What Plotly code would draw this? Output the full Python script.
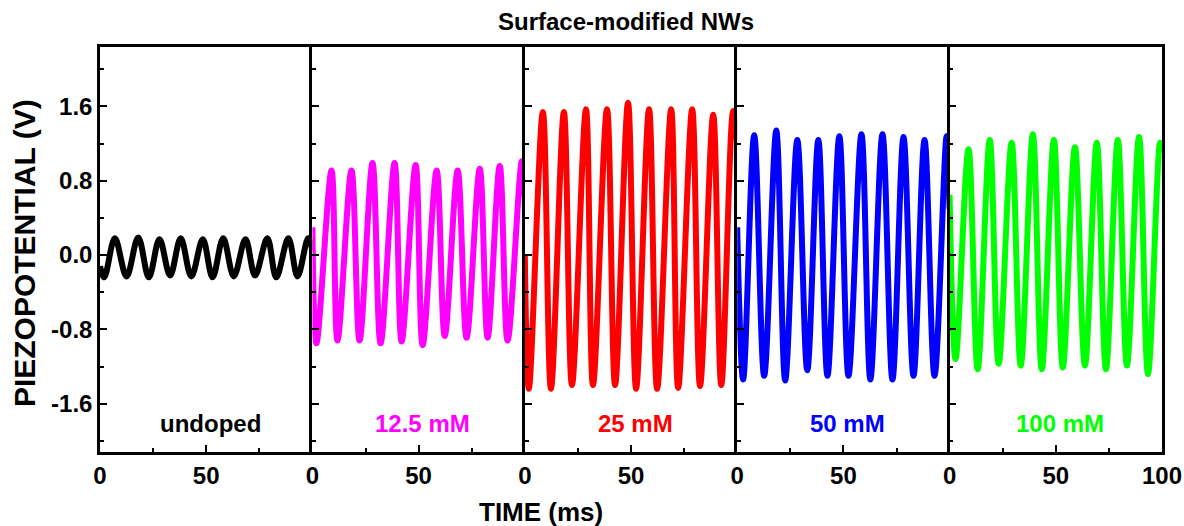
import plotly.graph_objects as go

# Piezopotential traces: time (ms) and voltage (V) at the start, at every
# trough/peak and at the end of each 100 ms recording.
undoped_t = [0, 2.0, 7.0, 12.5, 18.0, 23.0, 28.0, 33.0, 38.0, 43.0, 48.4, 53.0,
             58.0, 63.0, 68.5, 73.0, 78.8, 83.0, 88.7, 93.0, 98.0, 100]
undoped_v = [-0.12, -0.24, 0.18, -0.23, 0.19, -0.24, 0.17, -0.22, 0.18, -0.23,
             0.17, -0.24, 0.18, -0.23, 0.17, -0.22, 0.18, -0.24, 0.18, -0.23,
             0.18, 0.05]

mm12_t = [0, 1.9, 9.0, 11.8, 18.4, 22.2, 28.3, 32.1, 38.7, 42.0, 48.6, 51.9,
          58.5, 62.3, 68.4, 72.6, 78.8, 82.5, 88.2, 91.9, 98.6, 100]
mm12_v = [0.30, -0.95, 0.91, -0.92, 0.91, -0.92, 0.99, -0.95, 0.99, -0.93,
          0.97, -0.97, 0.91, -0.87, 0.91, -0.89, 0.93, -0.89, 0.96, -0.92,
          1.01, 0.60]

mm25_t = [0, 1.9, 8.5, 12.3, 18.4, 22.2, 28.8, 32.1, 38.7, 42.5, 48.6, 52.4,
          58.5, 62.3, 68.9, 72.2, 78.8, 82.5, 88.7, 92.5, 98.1, 100]
mm25_v = [0.0, -1.44, 1.54, -1.44, 1.54, -1.40, 1.57, -1.40, 1.57, -1.40,
          1.64, -1.44, 1.57, -1.44, 1.57, -1.43, 1.57, -1.41, 1.51, -1.40,
          1.55, 1.20]

mm50_t = [0, 2.8, 8.0, 12.7, 18.4, 22.6, 28.3, 33.0, 38.2, 42.5, 48.1, 52.4,
          58.5, 62.7, 68.4, 73.1, 78.3, 83.0, 88.2, 92.9, 98.6, 100]
mm50_v = [0.30, -1.34, 1.29, -1.30, 1.34, -1.35, 1.24, -1.24, 1.24, -1.30,
          1.28, -1.30, 1.30, -1.34, 1.30, -1.34, 1.27, -1.30, 1.24, -1.30,
          1.28, 0.50]

mm100_t = [0, 2.8, 8.9, 13.2, 18.9, 23.1, 29.2, 33.5, 39.2, 43.4, 49.1, 53.3,
           59.0, 63.7, 69.3, 73.6, 79.2, 83.5, 89.2, 93.4, 99.1, 100]
mm100_v = [0.65, -1.12, 1.14, -1.23, 1.24, -1.17, 1.21, -1.19, 1.30, -1.23,
           1.24, -1.21, 1.16, -1.19, 1.21, -1.23, 1.24, -1.19, 1.27, -1.28,
           1.21, 1.10]

panel_labels = ["undoped", "12.5 mM", "25 mM", "50 mM", "100 mM"]
panel_colors = ["#000000", "#FF00FF", "#FF0000", "#0000FF", "#00FF00"]
series = [(undoped_t, undoped_v), (mm12_t, mm12_v), (mm25_t, mm25_v),
          (mm50_t, mm50_v), (mm100_t, mm100_v)]

y_ticks = [-1.6, -0.8, 0.0, 0.8, 1.6]

FONT = "Arial, 'Liberation Sans', sans-serif"
n = len(series)

fig = go.Figure()
layout = dict(
    width=1184, height=526,
    margin=dict(l=100, r=22, t=47, b=74, autoexpand=False),
    paper_bgcolor="white", plot_bgcolor="white",
    showlegend=False,
    font=dict(family=FONT, size=24, color="black", weight="bold"),
)

for i, ((t, v), color, label) in enumerate(zip(series, panel_colors, panel_labels)):
    k = "" if i == 0 else str(i + 1)
    fig.add_trace(go.Scatter(
        x=t, y=v, mode="lines",
        line=dict(color=color, width=6, shape="spline", smoothing=1.0),
        xaxis="x" + k, yaxis="y" + k, hoverinfo="skip",
    ))
    last = i == n - 1
    layout["xaxis" + k] = dict(
        domain=[i / n, (i + 1) / n], anchor="y" + k, range=[0, 100],
        tickvals=[0, 50, 100] if last else [0, 50],
        ticktext=["0", "50", "100"] if last else ["0", "50"],
        ticks="inside", ticklen=7, tickwidth=2, tickcolor="black",
        minor=dict(tickvals=[25, 75], ticks="inside", ticklen=4,
                   tickwidth=2, tickcolor="black"),
        showline=True, linewidth=2.5, linecolor="black", mirror=True,
        showgrid=False, zeroline=False, fixedrange=True, automargin=False,
        tickfont=dict(family=FONT, size=24, color="black", weight="bold"),
    )
    layout["yaxis" + k] = dict(
        domain=[0, 1], anchor="x" + k, range=[-2.12, 2.24],
        tickvals=y_ticks, ticktext=[f"{y:.1f}" for y in y_ticks],
        showticklabels=(i == 0),
        ticks="inside", ticklen=7, tickwidth=2, tickcolor="black",
        minor=dict(tickvals=[-2.0, -1.2, -0.4, 0.4, 1.2, 2.0], ticks="inside",
                   ticklen=4, tickwidth=2, tickcolor="black"),
        showline=True, linewidth=2.5, linecolor="black", mirror=last,
        showgrid=False, zeroline=False, fixedrange=True, automargin=False,
        ticklabelstandoff=0,
        tickfont=dict(family=FONT, size=24, color="black", weight="bold"),
    )

annotations = []
for i, (color, label) in enumerate(zip(panel_colors, panel_labels)):
    k = "" if i == 0 else str(i + 1)
    annotations.append(dict(
        x=52, y=-1.81, xref="x" + k, yref="y" + k, text=label, showarrow=False,
        font=dict(family=FONT, size=24, color=color, weight="bold"),
        xanchor="center", yanchor="middle",
    ))

annotations += [
    dict(text="Surface-modified NWs", x=0.495, y=1.062, xref="paper", yref="paper",
         showarrow=False, xanchor="center", yanchor="middle",
         font=dict(family=FONT, size=24, color="black", weight="bold")),
    dict(text="TIME (ms)", x=0.415, y=-0.147, xref="paper", yref="paper",
         showarrow=False, xanchor="center", yanchor="middle",
         font=dict(family=FONT, size=26, color="black", weight="bold")),
    dict(text="PIEZOPOTENTIAL (V)", x=-0.0716, y=0.491, xref="paper", yref="paper",
         showarrow=False, xanchor="center", yanchor="middle", textangle=-90,
         font=dict(family=FONT, size=30, color="black", weight="bold")),
]
layout["annotations"] = annotations

fig.update_layout(**layout)
fig.write_html("out.html")
